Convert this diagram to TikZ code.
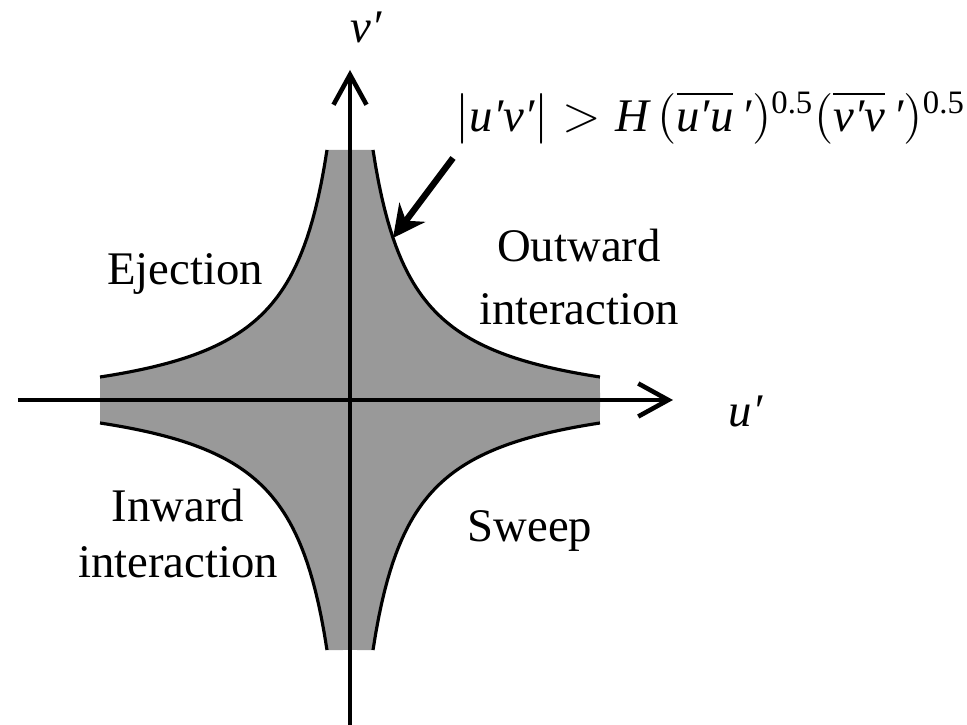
\documentclass[tikz,border=0pt]{standalone}
\usepackage{amsmath}
\usepackage{fontspec}
\setmainfont{Liberation Serif}
\usetikzlibrary{arrows.meta}
\newcommand{\vi}[1]{\textit{#1}}

\begin{document}
\begin{tikzpicture}[
  axis/.style={line width=1.3pt, -{Straight Barb[length=3mm,width=3.3mm,line width=1.3pt]}},
  bound/.style={line width=0.9pt},
  region/.style={fill=black!40},
  lbl/.style={font=\fontsize{13.3}{17}\selectfont, inner sep=0pt},
  pointer/.style={line width=1.8pt, -{Stealth[length=3.2mm,width=3.2mm]}}
]
\useasboundingbox (-3.5,-3.25) rectangle (6.17,4.0);

% shaded zone between the four hyperbolic bounds
\foreach \sx/\sy in {1/1,-1/1,-1/-1,1/-1}{
  \begin{scope}[xscale=\sx, yscale=\sy]
    \fill[region] (0,0) -- (0,2.5) -- plot[domain=0.23:2.5, samples=80] (\x,{1.0988/(\x+0.18)-0.18}) -- (2.5,0) -- cycle;
    \draw[bound] plot[domain=0.23:2.5, samples=80] (\x,{1.0988/(\x+0.18)-0.18});
  \end{scope}
}

% axes
\coordinate (uL) at (-3.32,0);
\coordinate (uR) at (3.23,0);
\coordinate (vB) at (0,-3.25);
\coordinate (vT) at (0,3.30);
\draw[axis] (uL) -- (uR);
\draw[axis] (vB) -- (vT);

\node[lbl, anchor=base west] (ulab) at (3.78,-0.27) {\vi{u′}};
\node[lbl, anchor=base west] (vlab) at (0.0,3.57) {\vi{v′}};

% quadrant names
\node[lbl, anchor=base] (ejec) at (-1.65,1.15) {Ejection};
\node[lbl, anchor=base] (outw1) at (2.29,1.38) {Outward};
\node[lbl, anchor=base] (outw2) at (2.29,0.75) {interaction};
\node[lbl, anchor=base] (inw1) at (-1.72,-1.22) {Inward};
\node[lbl, anchor=base] (inw2) at (-1.72,-1.78) {interaction};
\node[lbl, anchor=base] (swp) at (1.80,-1.42) {Sweep};

% threshold condition
\node[lbl, anchor=base west] (cond) at (1.05,2.68)
  {$\lvert\vi{u′v′}\rvert > \vi{H}\,(\overline{\vi{u′u}}\,\vi{′})^{\textrm{0.5}}(\overline{\vi{v′v}}\,\vi{′})^{\textrm{0.5}}$};
\coordinate (tail) at (1.03,2.42);
\coordinate (tip) at (0.43,1.62);
\draw[pointer] (tail) -- (tip);
\end{tikzpicture}
\end{document}
